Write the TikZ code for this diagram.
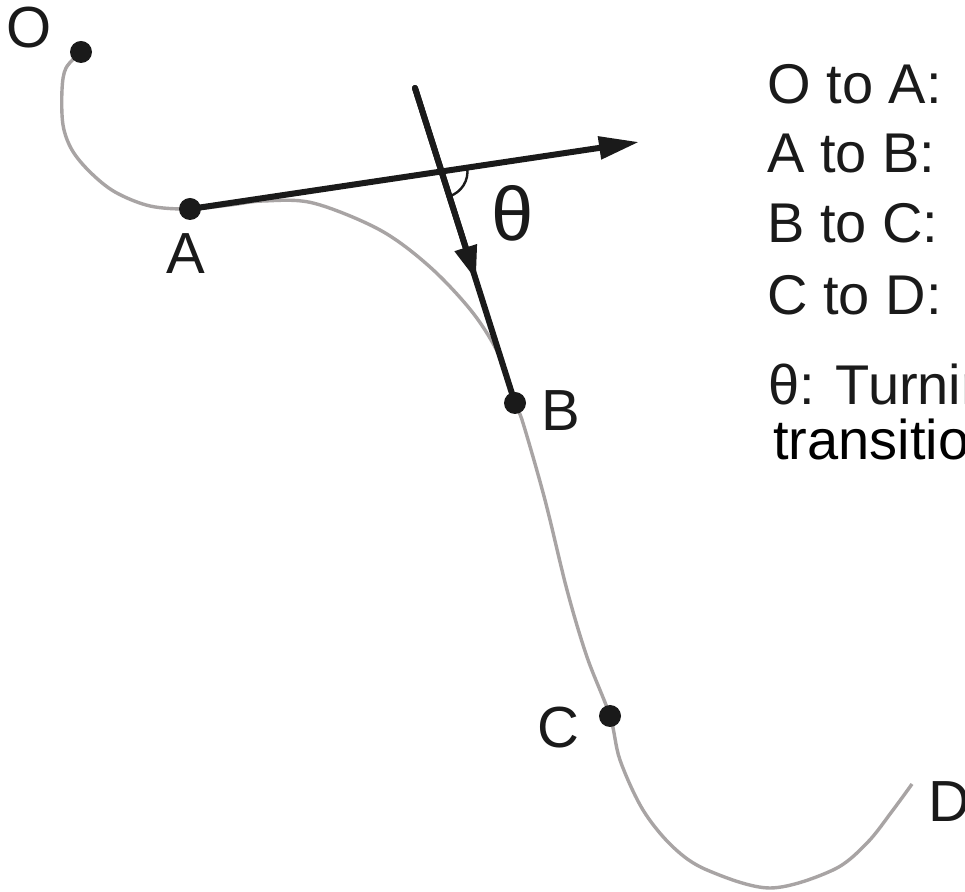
\documentclass[tikz,border=0pt]{standalone}
\usepackage{fontspec}
\setmainfont{Liberation Sans}
\usetikzlibrary{arrows.meta}
\definecolor{curvegray}{RGB}{168,164,164}
\definecolor{ink}{RGB}{26,26,26}
\begin{document}
\begin{tikzpicture}[x=0.5pt,y=-0.5pt,
  dotpt/.style={circle,fill=ink,inner sep=0pt,minimum size=11pt},
  lbl/.style={inner sep=0pt,font=\fontsize{29}{34}\selectfont,text=ink},
  legend/.style={inner sep=0pt,anchor=base west,font=\fontsize{28}{34}\selectfont,text=ink},
  vec/.style={draw=ink,line width=3pt,line cap=round},
  trail/.style={draw=curvegray,line width=1.7pt}
]
\clip (0,0) rectangle (965,892);
\fill[white] (0,0) rectangle (965,892);

% trajectory
\draw[trail] plot[smooth,tension=0.55] coordinates {
 (81,52) (66,68) (62,90) (63,125) (72,150) (90,172) (115,192) (150,206) (190,209)
 (230,205) (263,201) (313,203) (380,230) (430,267) (473,313) (500,357) (515,403)
 (523,423) (545,500) (567,590) (587,657) (610,716)
 (620,760) (643,810) (673,847) (707,870) (770,888) (833,870) (867,843) (893,810) (912,784)};

% points
\coordinate (Opos) at (81,52);
\coordinate (Apos) at (190,209);
\coordinate (Bpos) at (515,403);
\coordinate (Cpos) at (610,716);
\coordinate (D) at (912,784);

% tangent vectors
\coordinate (Aend) at (639,142);
\coordinate (P) at (415,88);
\coordinate (M) at (476,280);
\coordinate (X) at (441.5,171.5);
\draw[vec,-{Triangle[length=20pt,width=11pt]}] (Apos) -- (Aend);
\draw[vec] (P) -- (Bpos);
\draw[vec,-{Triangle[length=17pt,width=11pt]}] (P) -- (M);
\draw[ink,line width=1.2pt] (X) ++(-8.5:26) arc[start angle=-8.5,end angle=72.4,radius=26];

% dots
\node[dotpt] (O) at (Opos) {};
\node[dotpt] (A) at (Apos) {};
\node[dotpt] (B) at (Bpos) {};
\node[dotpt] (C) at (Cpos) {};

% labels
\node[lbl] (Olbl) at (29,28) {O};
\node[lbl] (Albl) at (186,254) {A};
\node[lbl] (Blbl) at (561,411) {B};
\node[lbl] (Clbl) at (558,728) {C};
\node[lbl,anchor=west] (Dlbl) at (928,802) {D};
\node[inner sep=0pt,font=\fontsize{38}{44}\selectfont,text=ink] (theta) at (513,213) {θ};

% legend
\node[legend] (l1) at (767,104) {O to A:};
\node[legend] (l2) at (767,173) {A to B:};
\node[legend] (l3) at (767,243) {B to C:};
\node[legend] (l4) at (767,315) {C to D:};
\node[legend] (l5) at (768,405) {θ: Turning};
\node[legend,text=black] (l6) at (773,460) {transition};
\end{tikzpicture}
\end{document}
